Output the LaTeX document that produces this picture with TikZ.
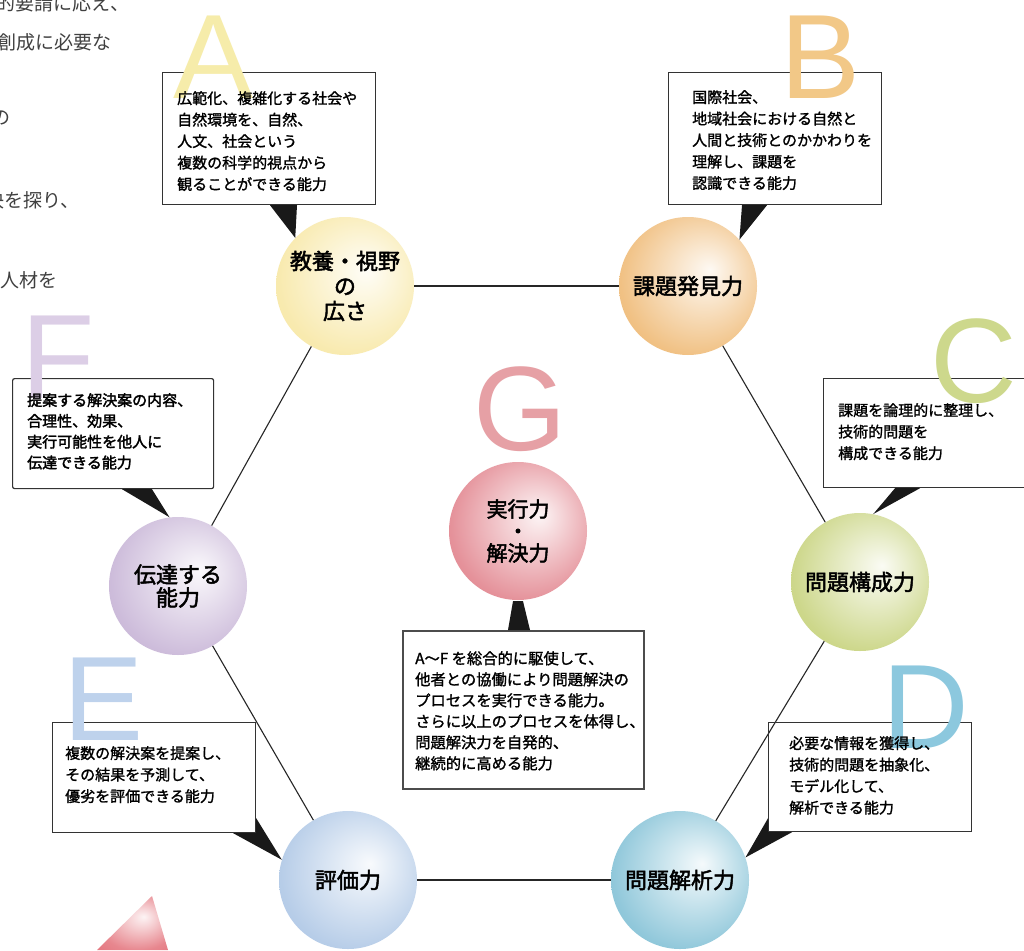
\documentclass[tikz,border=0pt]{standalone}
\usepackage{fontspec}
\setmainfont{Noto Sans CJK JP}
\newfontfamily\jpbold[FakeBold=2.2]{Noto Sans CJK JP}
\newfontfamily\jpmid[FakeBold=1.4]{Noto Sans CJK JP}
\newfontfamily\letterfont{Liberation Sans}
\usetikzlibrary{calc}

\definecolor{toneA}{RGB}{247,230,160}
\definecolor{toneB}{RGB}{238,182,110}
\definecolor{toneC}{RGB}{196,208,118}
\definecolor{toneD}{RGB}{125,190,212}
\definecolor{toneE}{RGB}{170,196,228}
\definecolor{toneF}{RGB}{196,176,212}
\definecolor{toneG}{RGB}{224,126,136}
\definecolor{letA}{RGB}{246,236,170}
\definecolor{letB}{RGB}{242,200,135}
\definecolor{letC}{RGB}{205,216,140}
\definecolor{letD}{RGB}{140,200,222}
\definecolor{letE}{RGB}{190,210,236}
\definecolor{letF}{RGB}{220,206,230}
\definecolor{letG}{RGB}{230,160,165}
\colorlet{balltone}{gray}
\pgfdeclareradialshading[balltone]{sphere}{\pgfpoint{8bp}{6bp}}{color(0bp)=(balltone!8!white); color(10bp)=(balltone!35!white); color(28bp)=(balltone!85!white); color(42bp)=(balltone); color(50bp)=(balltone)}

\begin{document}
\begin{tikzpicture}[x=1pt, y=-1pt,
  ball/.style={circle, shade, shading=sphere, /utils/exec={\colorlet{balltone}{#1}}, minimum size=138, inner sep=0, align=center, font=\jpbold\fontsize{22}{25}\selectfont},
  callbox/.style={draw=black!80, line width=1.2, anchor=north west, inner sep=0},
  boxtext/.style={anchor=north west, inner sep=0, align=left, font=\jpmid\fontsize{15}{21.5}\selectfont},
  bigletter/.style={anchor=base, inner sep=0, font=\letterfont\fontsize{120}{120}\selectfont, text=#1},
  pointer/.style={fill=black!90},
  edge/.style={draw=black!85, line width=1.1},
  pagetext/.style={anchor=east, inner sep=0, text=black!75, font=\fontsize{19}{19}\selectfont}]
  \useasboundingbox (0,0) rectangle (1024,950);
  \fill[white] (0,0) rectangle (1024,950);
  \clip (0,0) rectangle (1024,950);

  % text of the page, cut at the left edge
  \node[pagetext] (pg1) at (130,3) {的要請に応え、};
  \node[pagetext] (pg2) at (112,42) {創成に必要な};
  \node[pagetext] (pg3) at (11,118) {の};
  \node[pagetext] (pg4) at (80,200) {決を探り、};
  \node[pagetext] (pg5) at (58,280) {人材を};
  \shade[shading=sphere, /utils/exec={\colorlet{balltone}{toneG!90!red}}] (97,950) -- (152,896) -- (168,950) -- cycle;

  % hexagon of abilities
  \node[ball=toneA] (nA) at (345,286) {教養・視野\\の\\広さ};
  \node[ball=toneB] (nB) at (688,286) {課題発見力};
  \node[ball=toneC] (nC) at (860,582) {問題構成力};
  \node[ball=toneD] (nD) at (680,880) {問題解析力};
  \node[ball=toneE] (nE) at (348,880) {評価力};
  \node[ball=toneF, font=\jpbold\fontsize{22}{23}\selectfont] (nF) at (178,586) {伝達する\\能力};
  \node[ball=toneG, font=\jpbold\fontsize{21}{22}\selectfont] (nG) at (518,531) {実行力\\・\\解決力};

  \draw[edge] (nA) -- (nB);
  \draw[edge] (nB) -- (nC);
  \draw[edge] (nC) -- (nD);
  \draw[edge] (nD) -- (nE);
  \draw[edge] (nE) -- (nF);
  \draw[edge] (nF) -- (nA);

  % callout boxes
  \node[callbox, minimum width=213, minimum height=132] (boxA) at (162,72) {};
  \node[callbox, minimum width=213, minimum height=132] (boxB) at (668,72) {};
  \node[callbox, minimum width=207, minimum height=109] (boxC) at (823,378) {};
  \node[callbox, minimum width=203, minimum height=109] (boxD) at (768,722) {};
  \node[callbox, minimum width=203, minimum height=110] (boxE) at (52,722) {};
  \node[callbox, minimum width=201, minimum height=110, rounded corners=2] (boxF) at (12,378) {};
  \node[callbox, minimum width=241, minimum height=158, line width=1.6, draw=black!70] (boxG) at (402,630) {};

  \fill[pointer] ($(boxA.south west)+(108,0)$) -- (nA.136) -- ($(boxA.south west)+(135,0)$) -- cycle;
  \fill[pointer] ($(boxB.south west)+(74,0)$) -- (nB.42) -- ($(boxB.south west)+(99,0)$) -- cycle;
  \fill[pointer] ($(boxC.south west)+(72,0)$) -- (nC.79) -- ($(boxC.south west)+(97,0)$) -- cycle;
  \fill[pointer] ($(boxD.south west)+(0,-14)$) -- (nD.19) -- ($(boxD.south west)+(24,0)$) -- (boxD.south west) -- cycle;
  \fill[pointer] ($(boxE.south east)+(-23,0)$) -- (nE.163) -- ($(boxE.south east)+(0,-15)$) -- (boxE.south east) -- cycle;
  \fill[pointer] ($(boxF.south west)+(110,0)$) -- (nF.97) -- ($(boxF.south west)+(140,0)$) -- cycle;
  \fill[pointer] ($(boxG.north west)+(106,0)$) -- ($(nG.south)+(-5,1)$) -- ($(nG.south)+(5,1)$) -- ($(boxG.north west)+(128,0)$) -- cycle;

  % big letters
  \node[bigletter=letA] (lA) at (214,98) {A};
  \node[bigletter=letB] (lB) at (821,98) {B};
  \node[bigletter=letC] (lC) at (974,402) {C};
  \node[bigletter=letD] (lD) at (926,748) {D};
  \node[bigletter=letE] (lE) at (104,740) {E};
  \node[bigletter=letF] (lF) at (58,398) {F};
  \node[bigletter=letG] (lG) at (520,450) {G};

  % texts of the boxes
  \node[boxtext] (tA) at (177,91) {広範化、複雑化する社会や\\自然環境を、自然、\\人文、社会という\\複数の科学的視点から\\観ることができる能力};
  \node[boxtext] (tB) at (692,90) {国際社会、\\地域社会における自然と\\人間と技術とのかかわりを\\理解し、課題を\\認識できる能力};
  \node[boxtext] (tC) at (838,403) {課題を論理的に整理し、\\技術的問題を\\構成できる能力};
  \node[boxtext] (tD) at (789,736) {必要な情報を獲得し、\\技術的問題を抽象化、\\モデル化して、\\解析できる能力};
  \node[boxtext] (tE) at (65,746) {複数の解決案を提案し、\\その結果を予測して、\\優劣を評価できる能力};
  \node[boxtext, font=\jpbold\fontsize{15}{20.8}\selectfont] (tF) at (27,393) {提案する解決案の内容、\\合理性、効果、\\実行可能性を他人に\\伝達できる能力};
  \node[boxtext, font=\jpmid\fontsize{15.3}{21}\selectfont] (tG) at (415,651) {A〜F を総合的に駆使して、\\他者との協働により問題解決の\\プロセスを実行できる能力。\\さらに以上のプロセスを体得し、\\問題解決力を自発的、\\継続的に高める能力};
\end{tikzpicture}
\end{document}
